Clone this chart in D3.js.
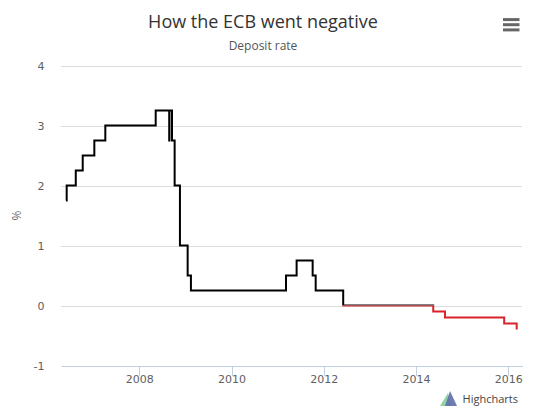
<!DOCTYPE html>
<html lang="en">
<head>
<meta charset="UTF-8">
<title>How the ECB went negative</title>
<script src="https://d3js.org/d3.v7.min.js"></script>
<style>
html,body{margin:0;padding:0;background:#fff}
svg{display:block;font-family:"Open Sans","DejaVu Sans",sans-serif}
.grid line{stroke:#dcdcdc;stroke-width:1;shape-rendering:crispEdges}
.grid path{display:none}
.axis text{fill:#606060;font-size:11px;font-family:"DejaVu Sans",sans-serif}
.x-axis path,.x-axis line{stroke:#c0d0e0;shape-rendering:crispEdges}
.y-axis path{display:none}
.y-axis line{display:none}
</style>
</head>
<body>
<div id="chart"></div>
<script>
// deposit rate (date of change, new rate in %)
var rateDates = ['2006-05-31', '2006-06-05', '2006-08-16', '2006-10-10', '2007-01-10', '2007-04-07',
  '2008-05-10', '2008-08-25', '2008-08-27', '2008-09-16', '2008-10-07', '2008-11-18',
  '2009-01-18', '2009-02-13', '2011-03-08', '2011-05-31', '2011-10-05', '2011-10-29',
  '2012-06-03', '2014-05-17', '2014-08-18', '2015-11-30', '2016-03-08'];
var rateValues = [1.75, 2.00, 2.25, 2.50, 2.75, 3.00,
  3.25, 2.75, 3.25, 2.75, 2.00, 1.00,
  0.50, 0.25, 0.50, 0.75, 0.50, 0.25,
  0.00, -0.10, -0.20, -0.30, -0.40];
var yTicks = [-1, 0, 1, 2, 3, 4];
var yTickLabels = ['-1', '0', '1', '2', '3', '4'];
var xTickYears = ['2008', '2010', '2012', '2014', '2016'];
var xDomain = ['2006-04-21', '2016-04-19'];

var W = 538, H = 418;
var plot = { left: 61, right: 522, top: 65.5, bottom: 365.5 };
var parse = d3.timeParse('%Y-%m-%d');

var data = rateDates.map(function(d, i) { return { date: parse(d), value: rateValues[i] }; });

var svg = d3.select('#chart').append('svg').attr('width', W).attr('height', H);

var x = d3.scaleTime()
  .domain(xDomain.map(parse))
  .range([plot.left, plot.right]);

var y = d3.scaleLinear()
  .domain([-1, 4])
  .range([plot.bottom, plot.top]);

// Title + subtitle
svg.append('text').attr('x', 263).attr('y', 27.5).attr('text-anchor', 'middle')
  .attr('fill', '#333333').style('font-size', '18px').text('How the ECB went negative');
svg.append('text').attr('x', 263).attr('y', 49.5).attr('text-anchor', 'middle')
  .attr('fill', '#555555').style('font-size', '12px').text('Deposit rate');

// export menu icon
var menu = svg.append('g').attr('stroke', '#666666').attr('stroke-width', 3);
[19.6, 24.7, 29.9].forEach(function(yy) {
  menu.append('line').attr('x1', 503).attr('x2', 519.5).attr('y1', yy).attr('y2', yy);
});

// Gridlines
svg.append('g').attr('class', 'grid')
  .attr('transform', 'translate(' + plot.left + ',0)')
  .call(d3.axisLeft(y).tickValues(yTicks).tickSize(-(plot.right - plot.left)).tickFormat(''));

// Y axis labels
svg.append('g').attr('class', 'axis y-axis')
  .attr('transform', 'translate(' + plot.left + ',0)')
  .call(d3.axisLeft(y).tickValues(yTicks).tickSize(0).tickPadding(16.5)
    .tickFormat(function(d, i) { return yTickLabels[i]; }));

svg.append('text')
  .attr('transform', 'translate(21,' + ((plot.top + plot.bottom) / 2) + ') rotate(-90)')
  .attr('text-anchor', 'middle').attr('fill', '#707070')
  .style('font-size', '12px').text('%');

// X axis
svg.append('g').attr('class', 'axis x-axis')
  .attr('transform', 'translate(0,' + plot.bottom + ')')
  .call(d3.axisBottom(x).tickValues(xTickYears.map(function(yr) { return parse(yr + '-01-01'); }))
    .tickSize(10).tickSizeOuter(0).tickPadding(0).tickFormat(d3.timeFormat('%Y')));

// Step line, black above zero and red below
var line = d3.line()
  .x(function(d) { return x(d.date); })
  .y(function(d) { return y(d.value); })
  .curve(d3.curveStepAfter);

var defs = svg.append('defs');
defs.append('clipPath').attr('id', 'clipAbove').append('rect')
  .attr('x', 0).attr('y', 0).attr('width', W).attr('height', y(0));
defs.append('clipPath').attr('id', 'clipBelow').append('rect')
  .attr('x', 0).attr('y', y(0)).attr('width', W).attr('height', H - y(0));

svg.append('path').datum(data)
  .attr('clip-path', 'url(#clipAbove)')
  .attr('fill', 'none').attr('stroke', '#000000').attr('stroke-width', 2)
  .attr('d', line);
svg.append('path').datum(data)
  .attr('clip-path', 'url(#clipBelow)')
  .attr('fill', 'none').attr('stroke', '#d8232a').attr('stroke-width', 2)
  .attr('d', line);

// Credits
var credits = svg.append('g');
credits.append('polygon').attr('points', '440,406 448,393 451,406').attr('fill', '#8fd3a5');
credits.append('polygon').attr('points', '445,406 450,391 457,406').attr('fill', '#5f6ea8').attr('opacity', 0.9);
credits.append('text').attr('x', 518).attr('y', 403).attr('text-anchor', 'end')
  .attr('fill', '#444444').style('font-size', '11px').text('Highcharts');
</script>
</body>
</html>
